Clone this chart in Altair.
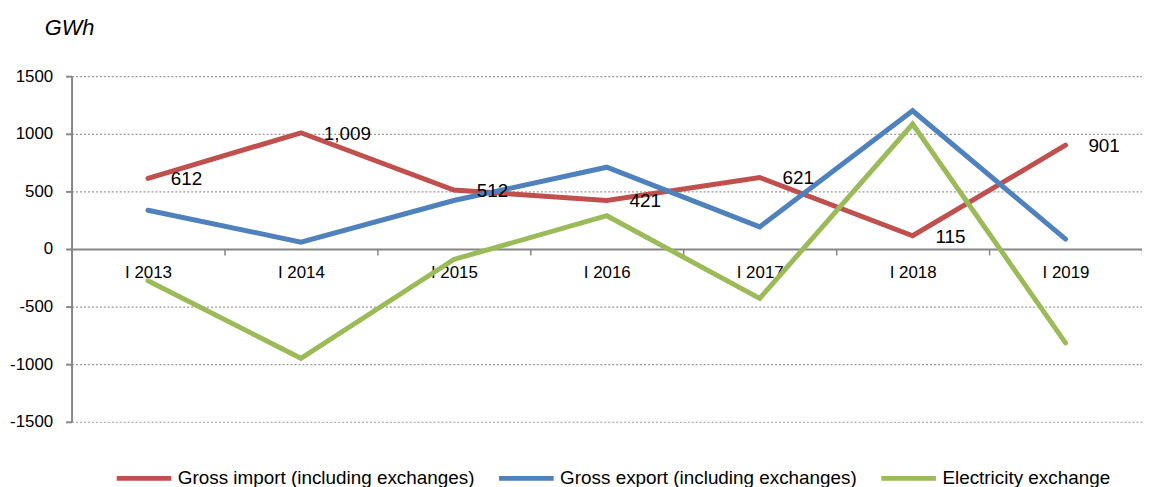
import altair as alt
import pandas as pd

categories = ["I 2013", "I 2014", "I 2015", "I 2016", "I 2017", "I 2018", "I 2019"]
series_names = ["Gross import (including exchanges)",
                "Gross export (including exchanges)",
                "Electricity exchange"]
gross_import = [612, 1009, 512, 421, 621, 115, 901]
gross_export = [336, 60, 421, 710, 192, 1200, 86]
exchange = [-276, -949, -91, 289, -429, 1085, -815]
colors = ["#C0504D", "#4F81BD", "#9BBB59"]
y_ticks = [-1500, -1000, -500, 0, 500, 1000, 1500]
unit_label = ["GWh"]

rows = []
for name, vals in zip(series_names, [gross_import, gross_export, exchange]):
    for c, v in zip(categories, vals):
        rows.append({"category": c, "series": name, "value": v})
df = pd.DataFrame(rows)

FONT = "Liberation Sans, Arial, sans-serif"
W, H = 1078, 348

x_enc = alt.X("category:N", sort=categories, bandPosition=0.5,
              scale=alt.Scale(type="band", paddingInner=0, paddingOuter=0),
              axis=alt.Axis(title=None, orient="bottom", offset=-174, labelAngle=0,
                            domainColor="#868686", domainWidth=2,
                            tickBand="extent", tickSize=6, tickWidth=1.5, tickColor="#868686",
                            labelPadding=10, labelFontSize=17, labelFont=FONT,
                            labelColor="#000000", grid=False))
y_enc = alt.Y("value:Q",
              scale=alt.Scale(domain=[-1500, 1500], nice=False, zero=False),
              axis=alt.Axis(title=None, values=y_ticks, labelExpr="'' + datum.value",
                            grid=True, gridColor="#999999", gridDash=[2, 2], gridWidth=1.2,
                            domainColor="#868686", domainWidth=2,
                            tickColor="#868686", tickSize=6, tickWidth=2,
                            labelPadding=13, labelFontSize=17, labelFont=FONT,
                            labelColor="#000000"))

lines = alt.Chart(df).mark_line(strokeWidth=5, strokeCap="round", strokeJoin="miter").encode(
    x=x_enc, y=y_enc,
    color=alt.Color("series:N", sort=series_names,
                    scale=alt.Scale(domain=series_names, range=colors),
                    legend=alt.Legend(title=None, orient="none", legendX=43, legendY=375,
                                      direction="horizontal", symbolType="stroke",
                                      symbolStrokeWidth=5, symbolSize=3025,
                                      labelFontSize=19, labelFont=FONT, labelColor="#000000",
                                      labelOffset=4, columnPadding=14, labelLimit=0)),
    detail="series:N",
)

labels = alt.Chart(df).transform_filter(
    alt.datum.series == series_names[0]
).mark_text(align="left", baseline="middle", dx=23, dy=1, fontSize=19, font=FONT,
            color="#000000").encode(
    x=alt.X("category:N", sort=categories, bandPosition=0.5),
    y=alt.Y("value:Q"),
    text=alt.Text("value:Q", format=",d"),
)

unit = alt.Chart(pd.DataFrame({"t": unit_label})).mark_text(
    align="left", baseline="alphabetic", fontSize=22, font=FONT, fontStyle="italic",
    color="#000000"
).encode(x=alt.value(-27), y=alt.value(-42), text="t:N")

chart = alt.layer(lines, labels, unit).properties(
    width=W, height=H,
    autosize=alt.AutoSizeParams(type="none"),
    padding={"left": 64, "top": 67, "right": 0, "bottom": 64},
).configure_view(stroke=None)

chart.save("out.html", embed_options={"renderer": "svg", "actions": False})
